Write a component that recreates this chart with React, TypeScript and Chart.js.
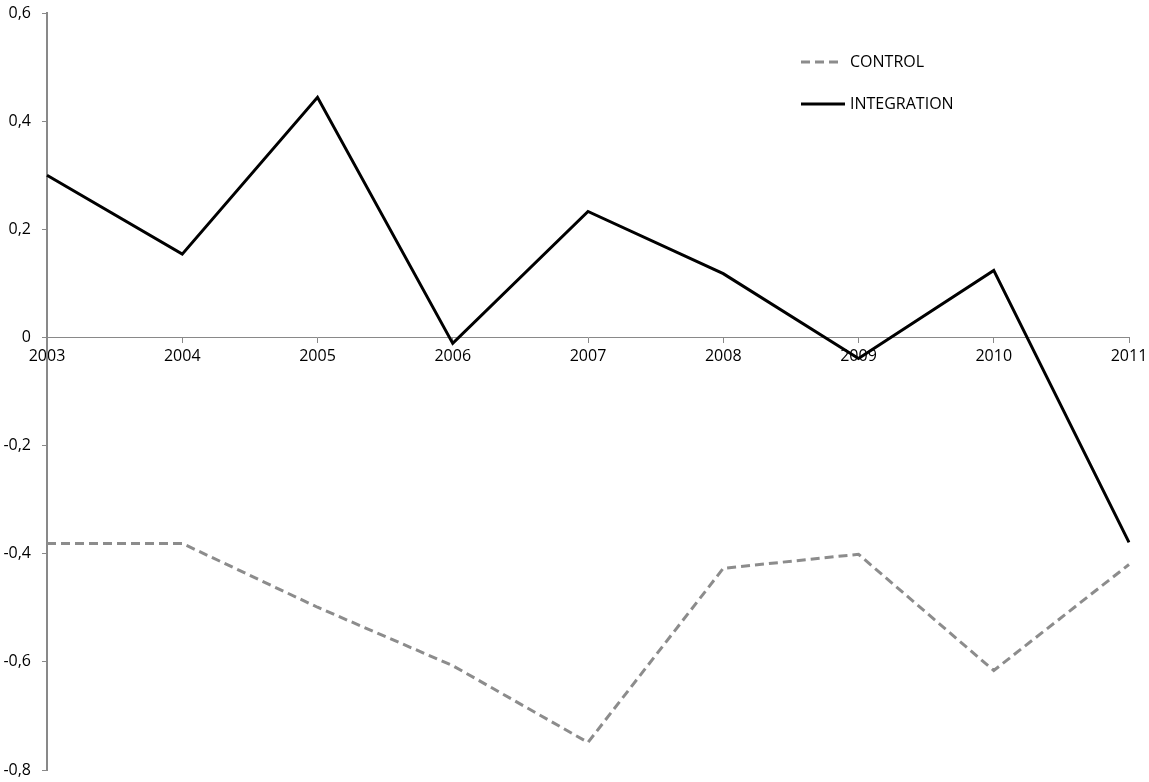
import React, { useEffect, useRef } from "react";
import { Chart, registerables } from "chart.js";

Chart.register(...registerables);

const years = ["2003", "2004", "2005", "2006", "2007", "2008", "2009", "2010", "2011"];
const controlValues = [-0.381, -0.381, -0.499, -0.607, -0.749, -0.427, -0.401, -0.616, -0.42];
const integrationValues = [0.3, 0.154, 0.444, -0.011, 0.233, 0.118, -0.039, 0.124, -0.379];
const seriesNames = ["CONTROL", "INTEGRATION"];
const yMin = -0.8;
const yMax = 0.6;
const yStep = 0.2;

const FONT = "'Open Sans', sans-serif";
const GREY = "#8c8c8c";
const AXIS = "#898989";

const legendPlugin = {
  id: "customLegend",
  afterDraw(chart: any) {
    const ctx = chart.ctx;
    ctx.save();
    ctx.font = `16px ${FONT}`;
    ctx.textBaseline = "middle";
    ctx.fillStyle = "#000";
    const items = [
      { label: seriesNames[0], color: GREY, dash: [9, 5], y: 62, x2: 840 },
      { label: seriesNames[1], color: "#000", dash: [], y: 104, x2: 845 },
    ];
    items.forEach((it) => {
      ctx.beginPath();
      ctx.setLineDash(it.dash);
      ctx.strokeStyle = it.color;
      ctx.lineWidth = 3;
      ctx.moveTo(801, it.y);
      ctx.lineTo(it.x2, it.y);
      ctx.stroke();
      ctx.setLineDash([]);
      ctx.fillText(it.label, 850, it.y);
    });
    ctx.restore();
  },
};

export default function App() {
  const canvasRef = useRef<HTMLCanvasElement>(null);

  useEffect(() => {
    if (!canvasRef.current) return;
    const chart = new Chart(canvasRef.current, {
      type: "line",
      data: {
        labels: years,
        datasets: [
          {
            label: seriesNames[0],
            data: controlValues,
            borderColor: GREY,
            borderWidth: 3,
            borderDash: [9, 5],
            pointRadius: 0,
            tension: 0,
            fill: false,
          },
          {
            label: seriesNames[1],
            data: integrationValues,
            borderColor: "#000",
            borderWidth: 3,
            pointRadius: 0,
            tension: 0,
            fill: false,
          },
        ],
      },
      options: {
        animation: false,
        responsive: true,
        maintainAspectRatio: false,
        layout: { padding: { left: 0, top: 13, right: 20, bottom: 12 } },
        plugins: {
          legend: { display: false },
          tooltip: { enabled: false },
        },
        scales: {
          x: {
            type: "category",
            offset: false,
            position: { y: 0 } as any,
            afterFit(scale: any) {
              scale.paddingLeft = 0;
              scale.paddingRight = 0;
            },
            grid: {
              drawOnChartArea: false,
              drawTicks: true,
              tickLength: 5,
              color: AXIS,
            },
            border: { color: AXIS, width: 1 },
            ticks: {
              color: "#000",
              font: { family: FONT, size: 16 },
              padding: 4,
              maxRotation: 0,
              autoSkip: false,
            },
          },
          y: {
            min: yMin,
            max: yMax,
            afterFit(scale: any) {
              scale.width = 47;
              scale.paddingTop = 0;
              scale.paddingBottom = 0;
            },
            grid: {
              drawOnChartArea: false,
              drawTicks: true,
              tickLength: 5,
              color: AXIS,
            },
            border: { color: AXIS, width: 2 },
            ticks: {
              stepSize: yStep,
              color: "#000",
              font: { family: FONT, size: 16 },
              padding: 11,
              callback: (v: any) => {
                const r = Math.round(Number(v) * 10) / 10;
                return r === 0 ? "0" : r.toFixed(1).replace(".", ",");
              },
            },
          },
        },
      },
      plugins: [legendPlugin],
    });
    return () => chart.destroy();
  }, []);

  return (
    <div style={{ position: "fixed", left: 0, top: 0, width: 1149, height: 782, background: "#fff" }}>
      <canvas ref={canvasRef} />
    </div>
  );
}
